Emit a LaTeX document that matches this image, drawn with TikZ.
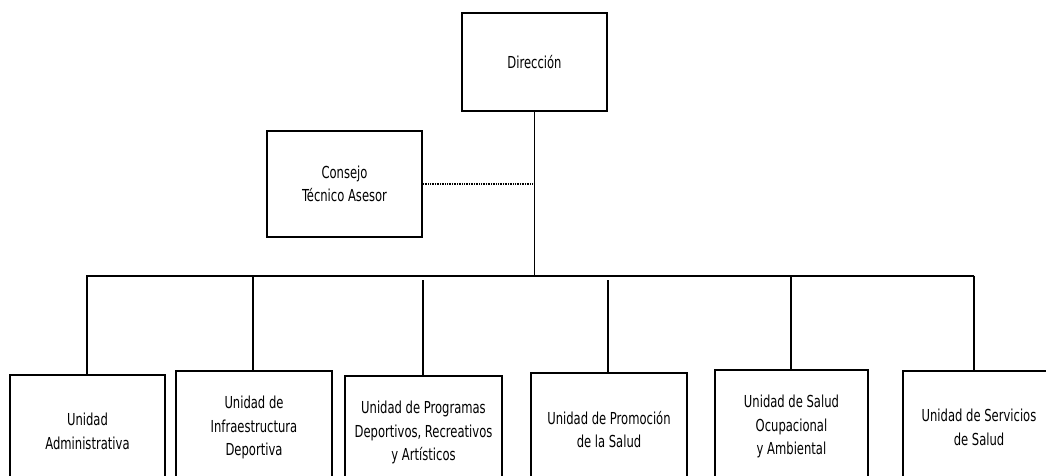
\documentclass[tikz,border=0pt]{standalone}
\usepackage{fontspec}
\setmainfont{DejaVu Sans Condensed}[FakeStretch=0.78]
\begin{document}
\begin{tikzpicture}[x=1pt,y=-1pt,
  box/.style={draw=black,line width=2pt,fill=white,align=center,inner sep=0pt,
    font=\fontsize{16.5}{23.5}\selectfont},
  unit/.style={box,anchor=north,minimum height=113pt},
  link/.style={draw=black,line width=1.6pt},
  buslink/.style={draw=black,line width=2pt},
  dotlink/.style={draw=black,line width=2pt,dash pattern=on 1pt off 0.7pt}]
\useasboundingbox (0,0) rectangle (1046,476);
\clip (0,0) rectangle (1046,476);
\fill[white] (0,0) rectangle (1046,476);
% top
\node[box,minimum width=145pt,minimum height=98pt] (dir) at (534.5,62) {Dirección};
\node[box,minimum width=155pt,minimum height=106pt] (csj) at (344.5,184) {Consejo\\Técnico Asesor};
% bus
\coordinate (busL) at (86,275.5);
\coordinate (busR) at (974,275.5);
\coordinate (busC) at (534.5,275.5);
% units
\node[unit,minimum width=155pt] (u1) at (87.5,374) {Unidad\\Administrativa};
\node[unit,minimum width=156pt] (u2) at (254,370) {Unidad de\\Infraestructura\\Deportiva};
\node[unit,minimum width=157pt] (u3) at (423.5,375) {Unidad de Programas\\Deportivos, Recreativos\\y Artísticos};
\node[unit,minimum width=156pt] (u4) at (609,372) {Unidad de Promoción\\de la Salud};
\node[unit,minimum width=153pt] (u5) at (791.5,369) {Unidad de Salud\\Ocupacional\\y Ambiental};
\node[unit,minimum width=152pt] (u6) at (979,370) {Unidad de Servicios\\de Salud};
% connectors
\draw[link] (dir.south) -- (busC);
\draw[dotlink] (csj.east) -- (csj.east -| dir.south);
\draw[buslink] (busL) -- (busR);
\coordinate (d1) at (87,275.5);
\coordinate (d2) at (253,275.5);
\coordinate (d3) at (423,280);
\coordinate (d4) at (608,280);
\coordinate (d5) at (791,275.5);
\draw[link] (d1) -- (d1 |- u1.north);
\draw[link] (d2) -- (d2 |- u2.north);
\draw[link] (d3) -- (d3 |- u3.north);
\draw[link] (d4) -- (d4 |- u4.north);
\draw[link] (d5) -- (d5 |- u5.north);
\draw[link] (busR) -- (busR |- u6.north);
\end{tikzpicture}
\end{document}
